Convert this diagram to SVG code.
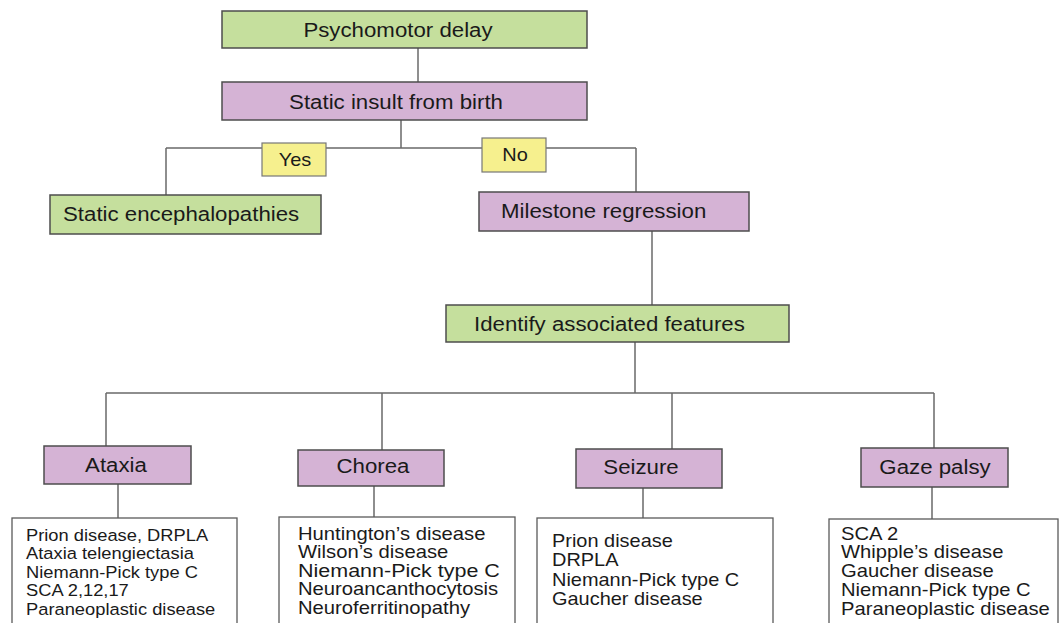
<svg xmlns="http://www.w3.org/2000/svg" width="1062" height="623" viewBox="0 0 1062 623">
<style>
  .g{fill:#c5df9d;stroke:#4d4d4d;stroke-width:1.5}
  .p{fill:#d5b3d5;stroke:#4d4d4d;stroke-width:1.5}
  .y{fill:#f6f08e;stroke:#777;stroke-width:1.2}
  .w{fill:#ffffff;stroke:#5a5a5a;stroke-width:1.3}
  .c{fill:none;stroke:#6a6a6a;stroke-width:1.5}
  text{font-family:"Liberation Sans",Arial,sans-serif;fill:#1a1a1a}
  .h{font-size:21px}
  .m{text-anchor:middle}
  .yn{font-size:19px;text-anchor:middle}
</style>
<rect width="1062" height="623" fill="#ffffff"/>
<g id="connectors">
  <path class="c" d="M418 48V82"/>
  <path class="c" d="M401 120V148M166 148H636M166 148V195M636 148V192"/>
  <path class="c" d="M652 231V305"/>
  <path class="c" d="M635 342V393M106 393H934M106 393V446M382 393V450M672 393V449M934 393V448"/>
  <path class="c" d="M118 484V518M374 486V517M643 488V518M932 487V519"/>
</g>
<g id="psychomotor">
  <rect class="g" x="222" y="11" width="365" height="37"/>
  <text class="h m" transform="translate(398 37) scale(1.06 1)">Psychomotor delay</text>
</g>
<g id="static-insult">
  <rect class="p" x="222" y="82" width="365" height="38"/>
  <text class="h m" transform="translate(396 109) scale(1.06 1)">Static insult from birth</text>
</g>
<g id="yes">
  <rect class="y" x="262" y="143" width="64" height="33"/>
  <text class="yn" transform="translate(295 166) scale(1.05 1)">Yes</text>
</g>
<g id="no">
  <rect class="y" x="482" y="138" width="64" height="34"/>
  <text class="yn" transform="translate(515 161) scale(1.05 1)">No</text>
</g>
<g id="static-enceph">
  <rect class="g" x="50" y="195" width="271" height="39"/>
  <text class="h" transform="translate(63 221) scale(1.06 1)">Static encephalopathies</text>
</g>
<g id="milestone">
  <rect class="p" x="479" y="192" width="270" height="39"/>
  <text class="h" transform="translate(501 218) scale(1.06 1)">Milestone regression</text>
</g>
<g id="identify">
  <rect class="g" x="446" y="305" width="343" height="37"/>
  <text class="h" transform="translate(474 331) scale(1.06 1)">Identify associated features</text>
</g>
<g id="ataxia">
  <rect class="p" x="44" y="446" width="147" height="38"/>
  <text class="h m" transform="translate(116 472) scale(1.06 1)">Ataxia</text>
</g>
<g id="chorea">
  <rect class="p" x="298" y="450" width="146" height="36"/>
  <text class="h m" transform="translate(373 473) scale(1.06 1)">Chorea</text>
</g>
<g id="seizure">
  <rect class="p" x="576" y="449" width="146" height="39"/>
  <text class="h m" transform="translate(641 474) scale(1.06 1)">Seizure</text>
</g>
<g id="gaze">
  <rect class="p" x="861" y="448" width="147" height="39"/>
  <text class="h m" transform="translate(935 474) scale(1.06 1)">Gaze palsy</text>
</g>
<g id="ataxia-list">
  <rect class="w" x="12" y="518" width="225" height="112"/>
  <text font-size="16.5" transform="translate(26 0) scale(1.11 1)">
    <tspan x="0" y="541">Prion disease, DRPLA</tspan>
    <tspan x="0" y="559.5">Ataxia telengiectasia</tspan>
    <tspan x="0" y="578">Niemann-Pick type C</tspan>
    <tspan x="0" y="596.5">SCA 2,12,17</tspan>
    <tspan x="0" y="615">Paraneoplastic disease</tspan>
  </text>
</g>
<g id="chorea-list">
  <rect class="w" x="279" y="517" width="236" height="113"/>
  <text font-size="17.6" transform="translate(298 0) scale(1.15 1)">
    <tspan x="0" y="540">Huntington’s disease</tspan>
    <tspan x="0" y="558.5">Wilson’s disease</tspan>
    <tspan x="0" y="577" font-size="18.7">Niemann-Pick type C</tspan>
    <tspan x="0" y="595.5">Neuroancanthocytosis</tspan>
    <tspan x="0" y="614">Neuroferritinopathy</tspan>
  </text>
</g>
<g id="seizure-list">
  <rect class="w" x="537" y="518" width="236" height="112"/>
  <text font-size="17.5" transform="translate(552 0) scale(1.14 1)">
    <tspan x="0" y="547">Prion disease</tspan>
    <tspan x="0" y="566.5">DRPLA</tspan>
    <tspan x="0" y="586">Niemann-Pick type C</tspan>
    <tspan x="0" y="605.5">Gaucher disease</tspan>
  </text>
</g>
<g id="gaze-list">
  <rect class="w" x="829" y="519" width="229" height="111"/>
  <text font-size="17.5" transform="translate(841 0) scale(1.155 1)">
    <tspan x="0" y="540">SCA 2</tspan>
    <tspan x="0" y="558.5">Whipple’s disease</tspan>
    <tspan x="0" y="577">Gaucher disease</tspan>
    <tspan x="0" y="596">Niemann-Pick type C</tspan>
    <tspan x="0" y="615">Paraneoplastic disease</tspan>
  </text>
</g>
</svg>
